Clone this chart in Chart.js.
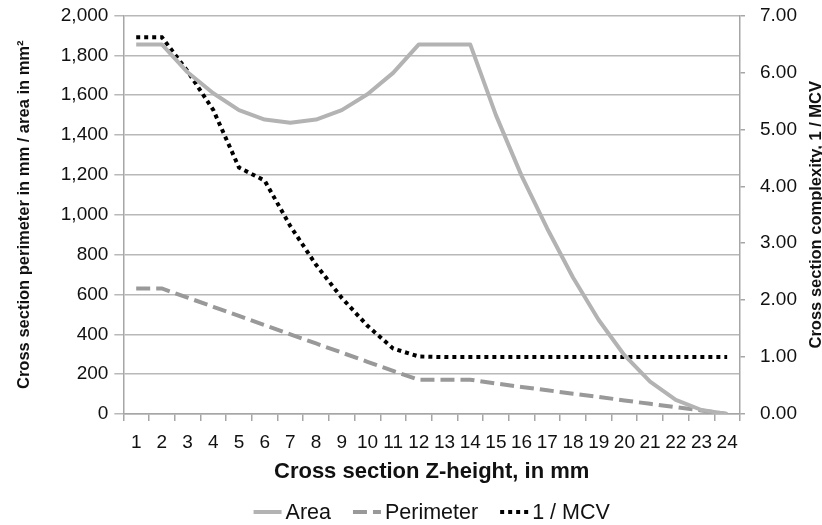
<!DOCTYPE html>
<html><head><meta charset="utf-8">
<script src="https://cdn.jsdelivr.net/npm/chart.js@4/dist/chart.umd.min.js"></script>
<style>html,body{margin:0;padding:0;background:#fff}#wrap{width:822px;height:525px}</style>
</head><body><div id="wrap"><canvas id="c" width="822" height="525"></canvas></div>
<script>
const categories = ["1","2","3","4","5","6","7","8","9","10","11","12","13","14","15","16","17","18","19","20","21","22","23","24"];
const areaValues = [1855,1855,1715,1610,1525,1478,1462,1478,1525,1605,1712,1855,1855,1855,1500,1195,930,685,472,295,162,71,20,0];
const perimeterValues = [630,630,584,538,492,446,400,354,308,262,216,172,172,172,153,136,119,102,86,68,51,34,18,0];
const mcvValues = [6.62,6.62,6.02,5.34,4.33,4.10,3.30,2.62,2.04,1.55,1.15,1.01,1.0,1.0,1.0,1.0,1.0,1.0,1.0,1.0,1.0,1.0,1.0,1.0];
const leftTicks = [0,200,400,600,800,1000,1200,1400,1600,1800,2000];
const rightTicks = [0,1,2,3,4,5,6,7];
const rightTitle = 'Cross section complexity, 1 / MCV';

const FONT = "'Liberation Sans', Arial, sans-serif";
Chart.defaults.font.family = FONT;
Chart.defaults.color = '#111';

const rightTitlePlugin = {
  id: 'rightTitle',
  afterDraw(chart) {
    const ctx = chart.ctx, ca = chart.chartArea;
    ctx.save();
    ctx.translate(816, (ca.top + ca.bottom) / 2);
    ctx.rotate(-Math.PI / 2);
    ctx.font = "bold 16.5px " + FONT;
    ctx.fillStyle = '#111';
    ctx.textAlign = 'center';
    ctx.textBaseline = 'middle';
    ctx.fillText(rightTitle, 0, 0);
    ctx.restore();
  }
};

// bottom legend drawn from the chart's own datasets
const bottomLegendPlugin = {
  id: 'bottomLegend',
  afterDraw(chart) {
    const ctx = chart.ctx, ca = chart.chartArea;
    const lineLen = 28, gapLT = 4, gapItem = 22, y = 512;
    ctx.save();
    ctx.font = "21.5px " + FONT;
    const items = chart.data.datasets.map(ds => ({ds, w: ctx.measureText(ds.label).width}));
    const total = items.reduce((s, it) => s + lineLen + gapLT + it.w, 0) + gapItem * (items.length - 1);
    let x = (ca.left + ca.right) / 2 - total / 2;
    items.forEach(it => {
      ctx.beginPath();
      ctx.setLineDash(it.ds.borderDash || []);
      ctx.lineWidth = it.ds.borderWidth;
      ctx.strokeStyle = it.ds.borderColor;
      ctx.lineCap = 'butt';
      ctx.moveTo(x, y); ctx.lineTo(x + lineLen, y);
      ctx.stroke();
      ctx.setLineDash([]);
      ctx.fillStyle = '#111';
      ctx.textAlign = 'left';
      ctx.textBaseline = 'middle';
      ctx.fillText(it.ds.label, x + lineLen + gapLT, y + 1);
      x += lineLen + gapLT + it.w + gapItem;
    });
    ctx.restore();
  }
};

new Chart(document.getElementById('c'), {
  type: 'line',
  data: {
    labels: categories,
    datasets: [
      {label:'Area', data: areaValues, yAxisID:'y', borderColor:'#b3b3b3', backgroundColor:'#b3b3b3', borderWidth:4, pointRadius:0, tension:0, borderJoinStyle:'round', fill:false},
      {label:'Perimeter', data: perimeterValues, yAxisID:'y', borderColor:'#999999', backgroundColor:'#999999', borderWidth:4, borderDash:[14,6], pointRadius:0, tension:0, fill:false},
      {label:'1 / MCV', data: mcvValues, yAxisID:'y1', borderColor:'#000000', backgroundColor:'#000000', borderWidth:4, borderDash:[4,4], pointRadius:0, tension:0, fill:false}
    ]
  },
  plugins: [rightTitlePlugin, bottomLegendPlugin],
  options: {
    responsive:false, animation:false, devicePixelRatio:1,
    layout:{padding:{left:7,right:25,top:0,bottom:42}},
    plugins:{
      legend:{display:false},
      tooltip:{enabled:false}
    },
    scales:{
      x:{
        offset:true,
        grid:{display:true, drawOnChartArea:false, drawTicks:true, tickLength:7, offset:true, color:'#a6a6a6', lineWidth:1.5},
        border:{color:'#a6a6a6', width:1.5},
        ticks:{font:{size:19, lineHeight:1.0}, color:'#111', maxRotation:0, autoSkip:false, padding:12},
        title:{display:true, text:'Cross section Z-height, in mm', font:{size:22, weight:'bold', lineHeight:1.0}, color:'#111', padding:{top:-3,bottom:0}}
      },
      y:{
        position:'left', min:0, max:2000,
        afterBuildTicks: a => { a.ticks = leftTicks.map(v=>({value:v})); },
        grid:{color:'#b8b8b8', lineWidth:1.5, tickLength:9},
        border:{color:'#a6a6a6', width:1.5},
        ticks:{font:{size:19, lineHeight:1.0}, color:'#111', padding:6, callback: v => v.toLocaleString('en-US')},
        title:{display:true, text:'Cross section perimeter in mm / area in mm²', font:{size:16.5, weight:'bold'}, color:'#111', padding:{top:8,bottom:20}}
      },
      y1:{
        position:'right', min:0, max:7,
        afterBuildTicks: a => { a.ticks = rightTicks.map(v=>({value:v})); },
        afterFit: s => { s.width += 11; },
        grid:{drawOnChartArea:false, color:'#a6a6a6', lineWidth:1.5, tickLength:5},
        border:{color:'#a6a6a6', width:1.5},
        ticks:{font:{size:19, lineHeight:1.0}, color:'#111', padding:2, crossAlign:'far', callback: v => Number(v).toFixed(2)},
        title:{display:false}
      }
    }
  }
});
</script></body></html>
